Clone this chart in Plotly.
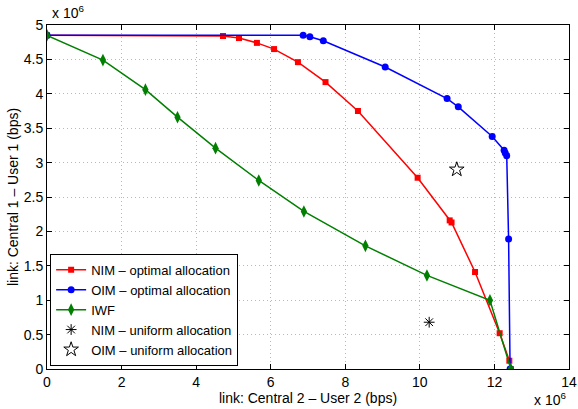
import plotly.graph_objects as go

# NIM - optimal allocation (x: link Central 2 - User 2, y: link Central 1 - User 1), units of 1e6 bps
nim_x = [0, 4.72, 5.15, 5.63, 6.09, 6.73, 7.47, 8.34, 9.94, 10.80, 10.85, 11.48, 12.14, 12.40, 12.44]
nim_y = [4.85, 4.84, 4.81, 4.74, 4.65, 4.46, 4.17, 3.75, 2.78, 2.16, 2.13, 1.41, 0.52, 0.12, 0.0]

# OIM - optimal allocation
oim_x = [0, 6.87, 7.05, 7.41, 9.07, 10.73, 11.03, 11.94, 12.26, 12.29, 12.33, 12.38, 12.42]
oim_y = [4.85, 4.85, 4.83, 4.77, 4.39, 3.93, 3.81, 3.38, 3.18, 3.14, 3.10, 1.89, 0.0]

# IWF
iwf_x = [0, 1.50, 2.64, 3.50, 4.52, 5.68, 6.89, 8.54, 10.19, 11.88, 12.44]
iwf_y = [4.85, 4.49, 4.06, 3.66, 3.21, 2.74, 2.29, 1.79, 1.36, 1.00, 0.0]

# uniform allocation points
nim_uni_x = [10.25]
nim_uni_y = [0.68]
oim_uni_x = [10.99]
oim_uni_y = [2.90]

scale = 1e6
x_ticks = [0, 2, 4, 6, 8, 10, 12, 14]
y_ticks = [0, 0.5, 1, 1.5, 2, 2.5, 3, 3.5, 4, 4.5, 5]

def s(v):
    return [a * scale for a in v]

FONT = "Liberation Sans, Arial, Helvetica, sans-serif"

fig = go.Figure()
fig.add_trace(go.Scatter(x=s(nim_x), y=s(nim_y), mode="lines+markers",
                         name="NIM – optimal allocation",
                         line=dict(color="#ff0000", width=1.5),
                         marker=dict(symbol="square", size=6, color="#ff0000")))
fig.add_trace(go.Scatter(x=s(oim_x), y=s(oim_y), mode="lines+markers",
                         name="OIM – optimal allocation",
                         line=dict(color="#0000ff", width=1.5),
                         marker=dict(symbol="circle", size=7, color="#0000ff")))
fig.add_trace(go.Scatter(x=s(iwf_x), y=s(iwf_y), mode="lines+markers",
                         name="IWF",
                         line=dict(color="#007f00", width=1.5),
                         marker=dict(symbol="diamond-tall", size=9, color="#007f00")))
fig.add_trace(go.Scatter(x=s(nim_uni_x), y=s(nim_uni_y), mode="markers",
                         name="NIM – uniform allocation",
                         marker=dict(symbol="asterisk-open", size=9, color="black",
                                     line=dict(color="black", width=1))))
fig.add_trace(go.Scatter(x=s(oim_uni_x), y=s(oim_uni_y), mode="markers",
                         name="OIM – uniform allocation",
                         marker=dict(symbol="star-open", size=11, color="black",
                                     line=dict(color="black", width=1))))

axis_common = dict(showline=True, linecolor="black", linewidth=1, mirror="ticks",
                   ticks="inside", ticklen=5, tickcolor="black",
                   showgrid=True, gridcolor="#b8b8b8", griddash="1px,3px", gridwidth=1,
                   zeroline=False, tickfont=dict(size=14, color="black", family=FONT))

fig.update_layout(
    width=578, height=409,
    margin=dict(l=47, r=9, t=25, b=40, autoexpand=False),
    paper_bgcolor="white", plot_bgcolor="white",
    font=dict(family=FONT, color="black"),
    xaxis=dict(range=[0, 14 * scale], tickvals=s(x_ticks), ticktext=[str(t) for t in x_ticks],
               title=dict(text="link: Central 2 – User 2 (bps)", font=dict(size=14), standoff=0),
               automargin=False, **axis_common),
    yaxis=dict(range=[0, 5 * scale], tickvals=s(y_ticks), ticktext=[("%g" % t) for t in y_ticks],
               title=dict(text="link: Central 1 – User 1 (bps)", font=dict(size=14), standoff=1),
               automargin=False, **axis_common),
    legend=dict(x=0.006, y=0.009, xanchor="left", yanchor="bottom",
                bgcolor="white", bordercolor="black", borderwidth=1,
                font=dict(size=13, color="black"), itemwidth=30, tracegroupgap=0),
    showlegend=True,
)

fig.add_annotation(x=0, y=1, xref="paper", yref="paper", xanchor="left", yanchor="bottom",
                   text="x 10<sup>6</sup>", showarrow=False, font=dict(size=14), yshift=2, xshift=3)
fig.add_annotation(x=1, y=0, xref="paper", yref="paper", xanchor="right", yanchor="top",
                   text="x 10<sup>6</sup>", showarrow=False, font=dict(size=14), yshift=-19, xshift=-1)

fig.write_html("out.html", config={"displayModeBar": False},
               post_script="document.body.style.margin='0px';document.body.style.overflow='hidden';")
